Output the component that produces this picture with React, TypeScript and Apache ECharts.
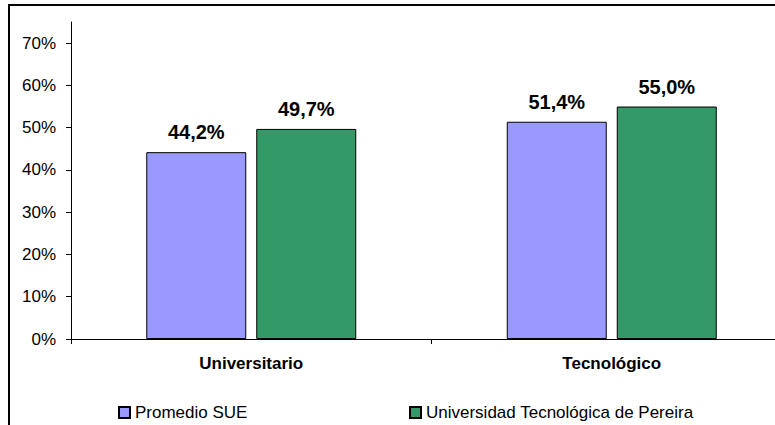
import React, { useEffect, useRef } from "react";
import * as echarts from "echarts";

const categories = ["Universitario", "Tecnológico"];
const seriesNames = ["Promedio SUE", "Universidad Tecnológica de Pereira"];
const promedioSUE = [0.442, 0.514];
const utp = [0.497, 0.55];
const yTicks = [0, 0.1, 0.2, 0.3, 0.4, 0.5, 0.6, 0.7];

const FONT = "Liberation Sans, Arial, sans-serif";
const fmtPct = (v: number) => (v * 100).toFixed(1).replace(".", ",") + "%";

export default function App() {
  const ref = useRef<HTMLDivElement>(null);
  useEffect(() => {
    if (!ref.current) return;
    const chart = echarts.init(ref.current, null, { renderer: "svg" });
    const label = {
      show: true,
      position: "top" as const,
      distance: 10,
      fontFamily: FONT,
      fontSize: 20,
      fontWeight: "bold" as const,
      color: "#000",
      formatter: (p: any) => fmtPct(p.value),
    };
    const legendBase = {
      top: 404,
      padding: 0,
      itemWidth: 11,
      itemHeight: 11,
      itemGap: 5,
      icon: "rect",
      textStyle: { fontFamily: FONT, fontSize: 17, color: "#000" },
    };
    chart.setOption({
      animation: false,
      backgroundColor: "#fff",
      grid: {
        left: 71,
        right: -17,
        top: 22,
        bottom: 86,
        containLabel: false,
        outerBoundsMode: "none",
      },
      xAxis: {
        type: "category",
        data: categories,
        axisLine: { lineStyle: { color: "#000", width: 1 } },
        axisTick: { show: true, length: 5, lineStyle: { color: "#000" } },
        axisLabel: {
          fontFamily: FONT,
          fontSize: 17,
          fontWeight: "bold",
          color: "#000",
          margin: 16,
        },
      },
      yAxis: {
        type: "value",
        min: 0,
        max: 0.75,
        axisLine: { show: true, lineStyle: { color: "#000", width: 1 } },
        axisTick: {
          show: true,
          length: 5,
          lineStyle: { color: "#000" },
          customValues: yTicks,
        },
        splitLine: { show: false },
        axisLabel: {
          fontFamily: FONT,
          fontSize: 17,
          color: "#000",
          margin: 15,
          customValues: yTicks,
          formatter: (v: number) => Math.round(v * 100) + "%",
        },
      },
      legend: [
        { ...legendBase, data: [seriesNames[0]], left: 118 },
        { ...legendBase, data: [seriesNames[1]], left: 409 },
      ],
      graphic: [
        { type: "line", shape: { x1: 8, y1: 5, x2: 775, y2: 5 }, style: { stroke: "#000", lineWidth: 2 } },
        { type: "line", shape: { x1: 9, y1: 5, x2: 9, y2: 425 }, style: { stroke: "#000", lineWidth: 2 } },
      ],
      series: [
        {
          name: seriesNames[0],
          type: "bar",
          data: promedioSUE,
          barWidth: 100,
          barGap: "10%",
          itemStyle: { color: "#9999FF", borderColor: "#000", borderWidth: 1 },
          label,
        },
        {
          name: seriesNames[1],
          type: "bar",
          data: utp,
          barWidth: 100,
          itemStyle: { color: "#339966", borderColor: "#000", borderWidth: 1 },
          label,
        },
      ],
    });
    return () => chart.dispose();
  }, []);
  return (
    <div
      ref={ref}
      style={{ position: "absolute", left: 0, top: 0, width: 775, height: 425 }}
    />
  );
}
